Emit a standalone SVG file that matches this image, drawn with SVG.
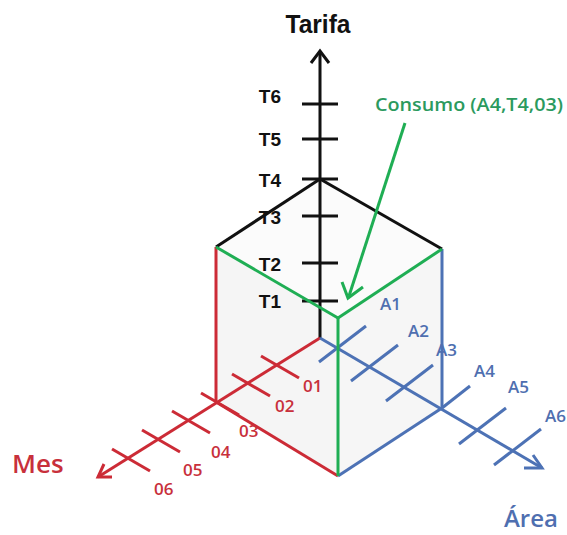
<svg xmlns="http://www.w3.org/2000/svg" width="567" height="535" viewBox="0 0 567 535">
<style>
.ax{fill:none;stroke-width:3;stroke-linecap:butt;stroke-linejoin:miter}
.k{stroke:#111}
.r{stroke:#cc2b36}
.b{stroke:#4d72b5}
.g{stroke:#1fae54}
.t{font-family:"Liberation Sans",Arial,sans-serif}
.o{font-family:"Open Sans","Liberation Sans",Arial,sans-serif;font-weight:600}
.tk{fill:#111;font-weight:bold;font-size:19px;text-anchor:end}
.tr{fill:#c8303b;font-size:17px}
.tb{fill:#4f6fb0;font-size:17px}
</style>
<rect width="567" height="535" fill="#fff"/>
<g id="faces">
<polygon points="216,247 338,318 338,476 216,402" fill="#f5f5f5"/>
<polygon points="338,318 442,249 442,408 338,476" fill="#f6f6f6"/>
<polygon points="320,179 216,247 338,318 442,249" fill="#fbfbfb"/>
</g>
<g id="connectors">
<!-- Tarifa axis -->
<line class="ax k" x1="320" y1="338" x2="320" y2="51"/>
<polyline class="ax k" points="311,63 320,51 329,63"/>
<g class="ax k">
<line x1="302" y1="104" x2="338" y2="104"/>
<line x1="302" y1="139" x2="338" y2="139"/>
<line x1="302" y1="179" x2="338" y2="179"/>
<line x1="302" y1="216" x2="338" y2="216"/>
<line x1="302" y1="263" x2="338" y2="263"/>
<line x1="302" y1="301" x2="338" y2="301"/>
</g>
<!-- top edges -->
<line class="ax k" x1="320" y1="179" x2="216" y2="247"/>
<line class="ax k" x1="320" y1="179" x2="442" y2="249"/>
<!-- Mes axis -->
<line class="ax r" x1="320" y1="338" x2="98" y2="477"/>
<polyline class="ax r" points="104,464 98,477 112,477"/>
<g class="ax r">
<line x1="261" y1="356" x2="299" y2="378"/>
<line x1="232" y1="374" x2="270" y2="396"/>
<line x1="201" y1="393" x2="239" y2="415"/>
<line x1="172" y1="411" x2="210" y2="433"/>
<line x1="142" y1="430" x2="180" y2="452"/>
<line x1="112" y1="449" x2="150" y2="471"/>
</g>
<line class="ax r" x1="216" y1="247" x2="216" y2="402"/>
<line class="ax r" x1="216" y1="402" x2="338" y2="476"/>
<!-- Area axis -->
<line class="ax b" x1="320" y1="338" x2="542" y2="468"/>
<polyline class="ax b" points="524,468 542,468 533,455"/>
<g class="ax b">
<line x1="319" y1="362" x2="366" y2="326"/>
<line x1="351" y1="381" x2="398" y2="345"/>
<line x1="386" y1="401" x2="433" y2="365"/>
<line x1="442" y1="408" x2="470" y2="386"/>
<line x1="459" y1="444" x2="506" y2="408"/>
<line x1="494" y1="465" x2="541" y2="429"/>
</g>
<line class="ax b" x1="442" y1="249" x2="442" y2="408"/>
<line class="ax b" x1="338" y1="476" x2="442" y2="408"/>
<!-- green edges -->
<line class="ax g" x1="216" y1="247" x2="338" y2="318"/>
<line class="ax g" x1="338" y1="318" x2="442" y2="249"/>
<line class="ax g" x1="338" y1="318" x2="338" y2="476"/>
<!-- green pointer -->
<line class="ax g" stroke-width="4" x1="405" y1="123" x2="349" y2="296"/>
<polyline class="ax g" stroke-width="4" points="342,282 348,298 363,287"/>
</g>
<g id="labels" class="t">
<text x="318" y="33" text-anchor="middle" font-weight="bold" font-size="25" textLength="65" lengthAdjust="spacingAndGlyphs" fill="#111">Tarifa</text>
<g id="tarifa-ticks">
<text class="tk" x="281" y="103">T6</text>
<text class="tk" x="281" y="146">T5</text>
<text class="tk" x="281" y="187">T4</text>
<text class="tk" x="281" y="224">T3</text>
<text class="tk" x="281" y="271">T2</text>
<text class="tk" x="281" y="308">T1</text>
</g>
<g id="mes-ticks" class="o">
<text class="tr" x="303" y="392">01</text>
<text class="tr" x="275" y="412">02</text>
<text class="tr" x="239" y="437">03</text>
<text class="tr" x="211" y="458">04</text>
<text class="tr" x="183" y="476">05</text>
<text class="tr" x="154" y="495">06</text>
</g>
<g id="area-ticks" class="o">
<text class="tb" x="380" y="310">A1</text>
<text class="tb" x="408" y="337">A2</text>
<text class="tb" x="436" y="356">A3</text>
<text class="tb" x="474" y="377">A4</text>
<text class="tb" x="508" y="393">A5</text>
<text class="tb" x="545" y="422">A6</text>
</g>
<text id="mes" class="o" x="12" y="473" font-size="26" fill="#c8303b">Mes</text>
<text id="area" class="o" x="504" y="527" font-size="24" fill="#4f6fb0">Área</text>
<text id="consumo" class="o" x="375" y="111" font-size="18" fill="#2b9a5e" textLength="188" lengthAdjust="spacingAndGlyphs">Consumo (A4,T4,03)</text>
</g>
</svg>
